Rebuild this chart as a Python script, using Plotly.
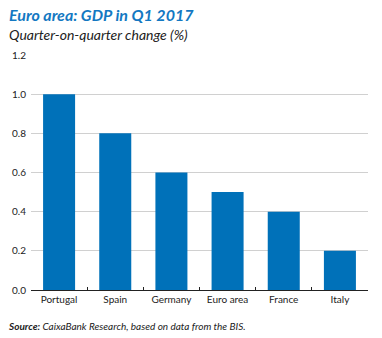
import plotly.graph_objects as go

categories = ["Portugal", "Spain", "Germany", "Euro area", "France", "Italy"]
gdp_qoq = [1.0, 0.8, 0.6, 0.5, 0.4, 0.2]
y_ticks = [0.0, 0.2, 0.4, 0.6, 0.8, 1.0, 1.2]
y_ticklabels = ["0.0", "0.2", "0.4", "0.6", "0.8", "1.0", "1.2"]

BLUE = "#0071b9"
FONT = "Lato, Open Sans, sans-serif"

fig = go.Figure(go.Bar(x=categories, y=gdp_qoq, marker_color=BLUE, marker_line_width=0))

fig.update_layout(
    width=382, height=338,
    margin=dict(l=25, r=14, t=55, b=48),
    paper_bgcolor="white", plot_bgcolor="white",
    bargap=0.43,
    showlegend=False,
    font=dict(family=FONT, size=10, color="#222"),
)
fig.update_yaxes(
    range=[0, 1.2], tickvals=y_ticks, ticktext=y_ticklabels,
    showgrid=True, gridcolor="#d0d0d0", gridwidth=1,
    zeroline=False, showline=False, ticks="", ticklabelstandoff=4,
    tickfont=dict(size=10, color="#222"),
)
fig.update_xaxes(
    showline=True, linecolor="#222", linewidth=1,
    ticks="inside", tickson="boundaries", ticklen=3, tickcolor="#222",
    tickfont=dict(size=10, color="#222"),
)

fig.add_annotation(text="<b><i>Euro area: GDP in Q1 2017</i></b>", xref="paper", yref="paper",
                   x=-24/343, y=1 + 41/235, xanchor="left", yanchor="middle", showarrow=False,
                   font=dict(family=FONT, size=16, color="#1378c2"))
fig.add_annotation(text="<i>Quarter-on-quarter change (%)</i>", xref="paper", yref="paper",
                   x=-24/343, y=1 + 21/235, xanchor="left", yanchor="middle", showarrow=False,
                   font=dict(family=FONT, size=14, color="#222"))
fig.add_annotation(text="<b><i>Source:</i></b><i> CaixaBank Research, based on data from the BIS.</i>",
                   xref="paper", yref="paper",
                   x=-25/343, y=-36/235, xanchor="left", yanchor="middle", showarrow=False,
                   font=dict(family=FONT, size=10, color="#222"))

fig.write_html("out.html")
